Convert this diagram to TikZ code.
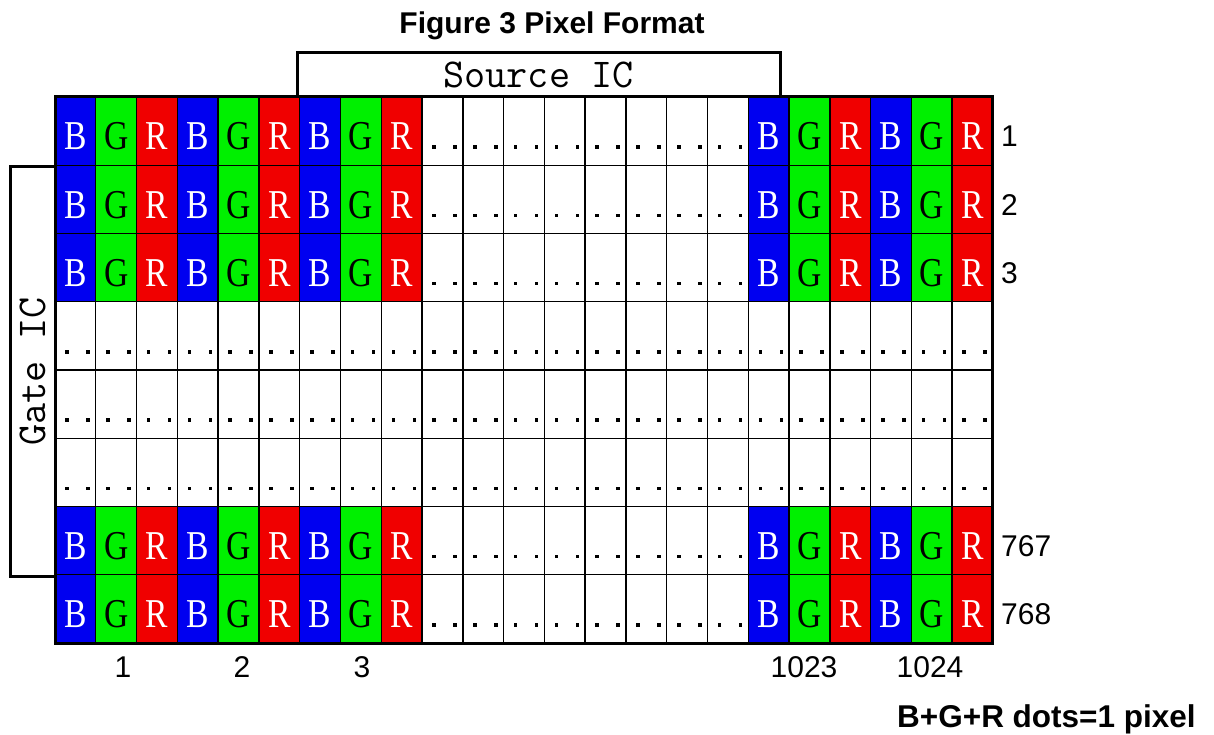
\documentclass[tikz,border=0pt]{standalone}
\usepackage{fontspec}
\setmainfont{Liberation Serif}
\newfontfamily\arialfont{Liberation Sans}
\newfontfamily\cellfont[FakeStretch=0.82]{Liberation Serif}
\usetikzlibrary{positioning}

\definecolor{subB}{RGB}{0,0,240}
\definecolor{subG}{RGB}{0,240,0}
\definecolor{subR}{RGB}{240,0,0}
\definecolor{txtB}{gray}{1}
\definecolor{txtG}{gray}{0}
\definecolor{txtR}{gray}{1}

% grid geometry (pixels of the reference)
\def\gx{55}
\def\gy{97}
\def\colw{40.78}
\def\rowh{68.25}

% two dots in a blank cell: #1 row, #2 column
\newcommand{\dotpair}[2]{%
  \fill (\gx+#2*\colw+10.3, \gy+#1*\rowh+48.3) rectangle ++(3.6,3.6);
  \fill (\gx+#2*\colw+31.3, \gy+#1*\rowh+48.3) rectangle ++(3.6,3.6);
}

\begin{document}
\begin{tikzpicture}[
      x=1pt, y=-1pt,
      letter/.style={
          font=\cellfont\fontsize{41}{44}\selectfont,
          anchor=base,
          inner sep=0pt
        },
      icbox/.style={
          draw,
          line width=3pt,
          font=\ttfamily\fontsize{41}{48}\selectfont,
          inner sep=0pt
        },
      numlbl/.style={
          font=\arialfont\fontsize{30}{34}\selectfont,
          anchor=base,
          inner sep=0pt
        },
      heading/.style={
          font=\arialfont\bfseries\fontsize{30}{34}\selectfont,
          anchor=base,
          inner sep=0pt
        },
      thinline/.style={
          line width=1.4pt
        },
      thickline/.style={
          line width=3pt
        }
    ]
    \useasboundingbox (0,0) rectangle (1214,735);

    % Sub-pixels
    \foreach \r in {0,1,2,6,7} {
      \foreach \c/\s in {0/B,1/G,2/R,3/B,4/G,5/R,6/B,7/G,8/R,17/B,18/G,19/R,20/B,21/G,22/R} {
        \fill[sub\s] (\gx+\c*\colw, \gy+\r*\rowh) rectangle ++(\colw,\rowh);
        \node[letter, text=txt\s] (px-\r-\c) at (\gx+\c*\colw+\colw/2, \gy+\r*\rowh+53) {\s};
      }
    }

    % Dots
    \foreach \r in {0,1,2,6,7} {
      \foreach \c in {9,...,16} {
        \dotpair{\r}{\c}
      }
    }
    \foreach \r in {3,4,5} {
      \foreach \c in {0,...,22} {
        \dotpair{\r}{\c}
      }
    }

    % Grid
    \foreach \c in {1,...,22} {
      \draw[thinline] (\gx+\c*\colw, \gy) -- (\gx+\c*\colw, \gy+8*\rowh);
    }
    \foreach \r in {1,...,7} {
      \draw[thinline] (\gx, \gy+\r*\rowh) -- (\gx+23*\colw, \gy+\r*\rowh);
    }
    \draw[thickline] (\gx,\gy) rectangle (\gx+23*\colw, \gy+8*\rowh);

    % ICs
    \node[icbox, minimum width=483, minimum height=44] (source) at (538.5,75) {Source IC};
    \node[icbox, rotate=90, minimum width=409, minimum height=45] (gate) at (32.5,371.5) {Gate IC};

    % Labels
    \node[heading] (title) at (552,34) {Figure 3 Pixel Format};
    \foreach \r/\t in {0/1,1/2,2/3,6/767,7/768} {
      \node[numlbl, anchor=base west] (row-\t) at (1001, \gy+\r*\rowh+50) {\t};
    }
    \foreach \x/\t in {123/1,242/2,362/3,804/1023,930/1024} {
      \node[numlbl] (col-\t) at (\x,677) {\t};
    }
    \node[heading, font=\arialfont\bfseries\fontsize{31.5}{34}\selectfont, anchor=base west] (note) at (897,727) {B+G+R dots=1 pixel};

  \end{tikzpicture}
\end{document}
